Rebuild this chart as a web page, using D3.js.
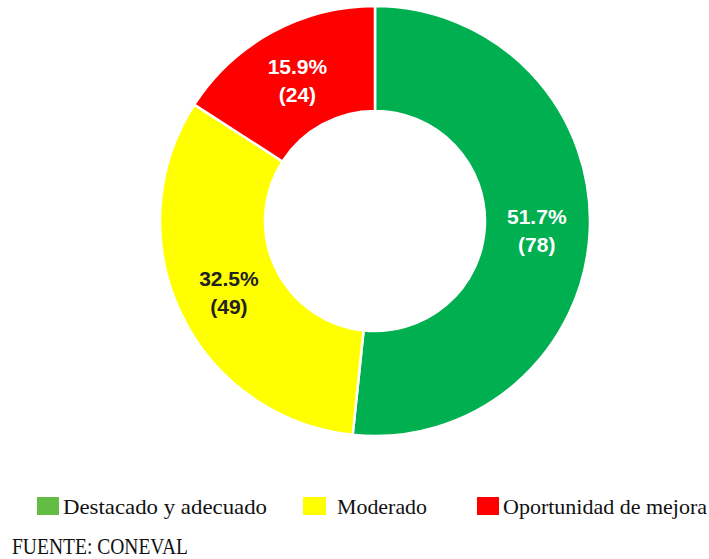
<!DOCTYPE html>
<html>
<head>
<meta charset="utf-8">
<script src="https://cdn.jsdelivr.net/npm/d3@7"></script>
<style>
  body { margin: 0; background: #fff; }
  svg { display: block; }
</style>
</head>
<body>
<svg id="chart" width="709" height="559"></svg>
<script>
// data
const categories = ["Destacado y adecuado", "Moderado", "Oportunidad de mejora"];
const counts = [78, 49, 24];
const percents = ["51.7%", "32.5%", "15.9%"];
const sliceColors = ["#00B050", "#FFFF00", "#FF0000"];
const legendColors = ["#62BD45", "#FFFF00", "#FF0000"];
const labelColors = ["#ffffff", "#222222", "#ffffff"];
const source = "FUENTE: CONEVAL";

const svg = d3.select("#chart");
const cx = 375, cy = 221, outerR = 215, innerR = 110;

const data = categories.map((c, i) => ({ cat: c, n: counts[i], pct: percents[i], i: i }));

const pie = d3.pie().value(d => d.n).sort(null);
const arc = d3.arc().innerRadius(innerR).outerRadius(outerR);
const labelArc = d3.arc().innerRadius(162).outerRadius(162);

const g = svg.append("g").attr("transform", `translate(${cx},${cy})`);

const arcs = pie(data);

g.selectAll("path")
  .data(arcs)
  .enter()
  .append("path")
  .attr("d", arc)
  .attr("fill", d => sliceColors[d.data.i])
  .attr("stroke", "#fff")
  .attr("stroke-width", 2.5);

const labels = g.selectAll("text.lbl")
  .data(arcs)
  .enter()
  .append("text")
  .attr("class", "lbl")
  .attr("transform", d => `translate(${labelArc.centroid(d)})`)
  .attr("text-anchor", "middle")
  .style("font-family", "'Liberation Sans', Arial, sans-serif")
  .style("font-weight", "bold")
  .style("font-size", "21px")
  .attr("fill", d => labelColors[d.data.i]);

labels.append("tspan").attr("x", 0).attr("y", -5).text(d => d.data.pct);
labels.append("tspan").attr("x", 0).attr("y", 23).text(d => "(" + d.data.n + ")");

// legend
const legendX = [37, 303, 477];
const legendW = [22, 23, 22];
const textX = [63, 337, 503];
const textW = [204, 90, 204];

const leg = svg.append("g");
data.forEach((d, i) => {
  leg.append("rect")
    .attr("x", legendX[i])
    .attr("y", 497)
    .attr("width", legendW[i])
    .attr("height", 18)
    .attr("fill", legendColors[i]);
  leg.append("text")
    .attr("x", textX[i])
    .attr("y", 514)
    .attr("textLength", textW[i])
    .attr("lengthAdjust", "spacingAndGlyphs")
    .style("font-family", "'Liberation Serif', 'Times New Roman', serif")
    .style("font-size", "22px")
    .attr("fill", "#111")
    .text(d.cat);
});

svg.append("text")
  .attr("x", 12)
  .attr("y", 554)
  .attr("textLength", 176)
  .attr("lengthAdjust", "spacingAndGlyphs")
  .style("font-family", "'Liberation Serif', 'Times New Roman', serif")
  .style("font-size", "24px")
  .attr("fill", "#111")
  .text(source);
</script>
</body>
</html>
